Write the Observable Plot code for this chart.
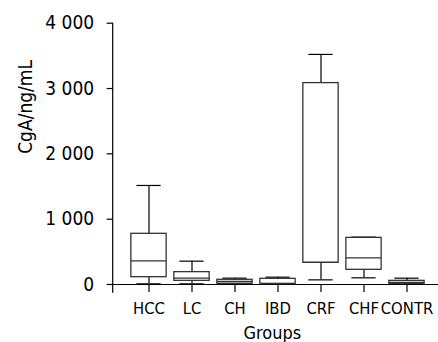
<!DOCTYPE html>
<html><head><meta charset="utf-8">
<script src="https://cdn.jsdelivr.net/npm/d3@7"></script>
<script src="https://cdn.jsdelivr.net/npm/@observablehq/plot@0.6"></script>
<style>body{margin:0;background:#fff} svg{display:block}</style>
</head><body><div id="chart"></div>
<script>
const groups = ["HCC", "LC", "CH", "IBD", "CRF", "CHF", "CONTR"];
const whiskerLow = [10, 10, 5, 2, 71, 102, 5];
const q1 = [112, 56, 10, 10, 332, 225, 10];
const median = [363, 97, 46, 12, 340, 408, 31];
const q3 = [776, 189, 72, 87, 3083, 714, 56];
const whiskerHigh = [1516, 357, 97, 112, 3522, 725, 97];
const yTicks = [0, 1000, 2000, 3000, 4000];
const yTickLabels = ["0", "1 000", "2 000", "3 000", "4 000"];
const xLabel = "Groups";
const yLabel = "CgA/ng/mL";

const data = groups.map((g, i) => ({group: g, lo: whiskerLow[i], q1: q1[i], med: median[i], q3: q3[i], hi: whiskerHigh[i]}));
const font = "'DejaVu Sans Condensed', 'DejaVu Sans', sans-serif";

const chart = Plot.plot({
  width: 438, height: 342,
  marginLeft: 112.7, marginRight: 0, marginTop: 22.7, marginBottom: 58,
  style: {fontFamily: font, color: "#000", background: "#fff", overflow: "visible"},
  x: {domain: groups, range: [124.85, 430.75], padding: 0},
  y: {domain: [0, 4000]},
  marks: [
    Plot.axisY({ticks: yTicks, tickSize: 6, tickPadding: 13, fontSize: 19, tickFormat: (d) => yTickLabels[yTicks.indexOf(d)], label: null, strokeWidth: 1.2}),
    Plot.axisX({tickSize: 8, tickPadding: 9.7, fontSize: 16.5, label: null, strokeWidth: 1.2}),
    Plot.ruleY([0], {stroke: "#000", strokeWidth: 1.2}),
    Plot.ruleX(data, {x: "group", y1: "q3", y2: "hi", stroke: "#000", strokeWidth: 1.2}),
    Plot.ruleX(data, {x: "group", y1: "lo", y2: "q1", stroke: "#000", strokeWidth: 1.2}),
    Plot.tickY(data, {x: "group", y: "hi", insetLeft: 9.35, insetRight: 9.35, stroke: "#000", strokeWidth: 1.2}),
    Plot.tickY(data, {x: "group", y: "lo", insetLeft: 9.35, insetRight: 9.35, stroke: "#000", strokeWidth: 1.2}),
    Plot.barY(data, {x: "group", y1: "q1", y2: "q3", insetLeft: 3.85, insetRight: 3.85, fill: "#fff", stroke: "#333", strokeWidth: 1.3}),
    Plot.tickY(data, {x: "group", y: "med", insetLeft: 3.85, insetRight: 3.85, stroke: "#333", strokeWidth: 1.3}),
    Plot.text([xLabel], {text: d => d, frameAnchor: "bottom", dy: 41.5, dx: -3.5, lineAnchor: "top", fontSize: 18, fill: "#000"}),
    Plot.text([yLabel], {text: d => d, frameAnchor: "left", rotate: -90, dx: -94.7, lineAnchor: "top", fontSize: 19, fill: "#000"})
  ]
});
const ys = chart.scale("y");
d3.select(chart).append("line")
  .attr("x1", 112.7).attr("x2", 112.7)
  .attr("y1", ys.apply(4000)).attr("y2", ys.apply(0) + 8.7)
  .attr("stroke", "#000").attr("stroke-width", 1.2);
document.getElementById("chart").appendChild(chart);
</script>
</body></html>
